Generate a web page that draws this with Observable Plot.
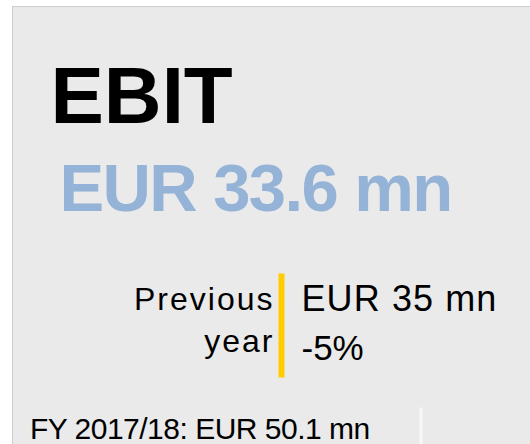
<!DOCTYPE html>
<html>
<head>
<meta charset="utf-8">
<script src="https://cdn.jsdelivr.net/npm/d3@7"></script>
<script src="https://cdn.jsdelivr.net/npm/@observablehq/plot@0.6"></script>
<style>
  html, body { margin: 0; padding: 0; background: #ffffff; overflow: hidden; }
</style>
</head>
<body>
<div id="chart"></div>
<script>
// KPI card content
const kpiTitle = ["EBIT"];
const kpiValue = ["EUR 33.6 mn"];
const prevLabel = ["Previous", "year"];
const prevValue = ["EUR 35 mn"];
const prevChange = ["-5%"];
const footer = ["FY 2017/18: EUR 50.1 mn"];

const font = "'Liberation Sans', Arial, Helvetica, sans-serif";

// letter spacing per text mark (in mark order), applied after render
const spacing = ["0px", "-1.6px", "2px", "2px", "1.1px", "0px", "-0.5px"];

const plot = Plot.plot({
  width: 530,
  height: 444,
  marginTop: 6,
  marginLeft: 12,
  marginRight: -1,
  marginBottom: -1,
  style: { background: "#ffffff", fontFamily: font, overflow: "hidden" },
  marks: [
    Plot.frame({ fill: "#eaeaea", stroke: "#cdcdcd" }),
    // yellow separator bar
    Plot.frame({ fill: "#ffcc00", stroke: null, insetLeft: 266, insetRight: 247, insetTop: 267, insetBottom: 68 }),
    // white footer separator
    Plot.frame({ fill: "#f7f7f7", stroke: null, insetLeft: 407, insetRight: 109, insetTop: 401, insetBottom: 0 }),
    Plot.text(kpiTitle, { text: d => d, frameAnchor: "top-left", textAnchor: "start", lineAnchor: "bottom",
      dx: 38, dy: 116.5, fontSize: 80, fontWeight: "bold", fill: "#000000" }),
    Plot.text(kpiValue, { text: d => d, frameAnchor: "top-left", textAnchor: "start", lineAnchor: "bottom",
      dx: 47, dy: 204.5, fontSize: 67, fontWeight: "bold", fill: "#95b3d7" }),
    Plot.text([prevLabel[0]], { text: d => d, frameAnchor: "top-left", textAnchor: "end", lineAnchor: "bottom",
      dx: 262, dy: 303.3, fontSize: 32, fill: "#000000" }),
    Plot.text([prevLabel[1]], { text: d => d, frameAnchor: "top-left", textAnchor: "end", lineAnchor: "bottom",
      dx: 262, dy: 345.3, fontSize: 32, fill: "#000000" }),
    Plot.text(prevValue, { text: d => d, frameAnchor: "top-left", textAnchor: "start", lineAnchor: "bottom",
      dx: 289, dy: 304.7, fontSize: 36, fill: "#000000" }),
    Plot.text(prevChange, { text: d => d, frameAnchor: "top-left", textAnchor: "start", lineAnchor: "bottom",
      dx: 289, dy: 353, fontSize: 35, fill: "#000000" }),
    Plot.text(footer, { text: d => d, frameAnchor: "top-left", textAnchor: "start", lineAnchor: "bottom",
      dx: 17.4, dy: 432.3, fontSize: 30, fill: "#000000" })
  ]
});
d3.select(plot).selectAll('g[aria-label="text"]').each(function (_, i) {
  d3.select(this).attr("letter-spacing", spacing[i]);
});
document.getElementById("chart").appendChild(plot);
</script>
</body>
</html>
